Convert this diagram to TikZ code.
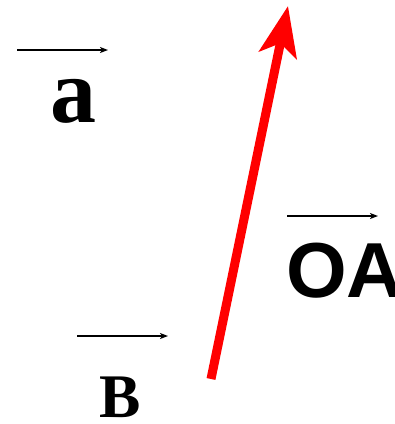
\documentclass[tikz,border=0pt]{standalone}
\usepackage{fontspec}
\setmainfont{Liberation Serif}[BoldFont={Liberation Serif Bold}]
\newfontfamily\labelsans{Liberation Sans}[BoldFont={Liberation Sans Bold}]
\usepackage{tikz}
\usetikzlibrary{arrows.meta}
\usepackage{xcolor}
\definecolor{cRed}{RGB}{255,0,0}

\begin{document}
\begin{tikzpicture}[
    x=1pt, y=-1pt,
    vec/.style={draw=black,line width=1.4pt,-{Stealth[length=8pt,width=6pt,inset=2pt]}},
    lbl/.style={anchor=base,inner sep=0pt,font=\bfseries}
  ]
  \useasboundingbox (0,0) rectangle (395,424);
  % small vector bars
  \coordinate (a0) at (17,50);   \coordinate (a1) at (108,50);
  \coordinate (o0) at (287,216); \coordinate (o1) at (378,216);
  \coordinate (b0) at (77,336);  \coordinate (b1) at (168,336);
  \draw[vec] (a0) -- (a1);
  \draw[vec] (o0) -- (o1);
  \draw[vec] (b0) -- (b1);

  % labels
  \node[lbl,font=\fontsize{92}{92}\selectfont\bfseries] (la) at (73,122) {a};
  \node[lbl,font=\fontsize{62}{62}\selectfont\bfseries] (lb) at (120,417) {B};
  \node[lbl,anchor=base west,font=\fontsize{78}{78}\selectfont\labelsans\bfseries] (loa) at (286,297) {OA};

  % red arrow
  \coordinate (r0) at (211,379);
  \coordinate (r1) at (288,6);
  \draw[cRed,line width=9pt,-{Stealth[length=50pt,width=38pt,inset=12pt]}] (r0) -- (r1);
\end{tikzpicture}
\end{document}
